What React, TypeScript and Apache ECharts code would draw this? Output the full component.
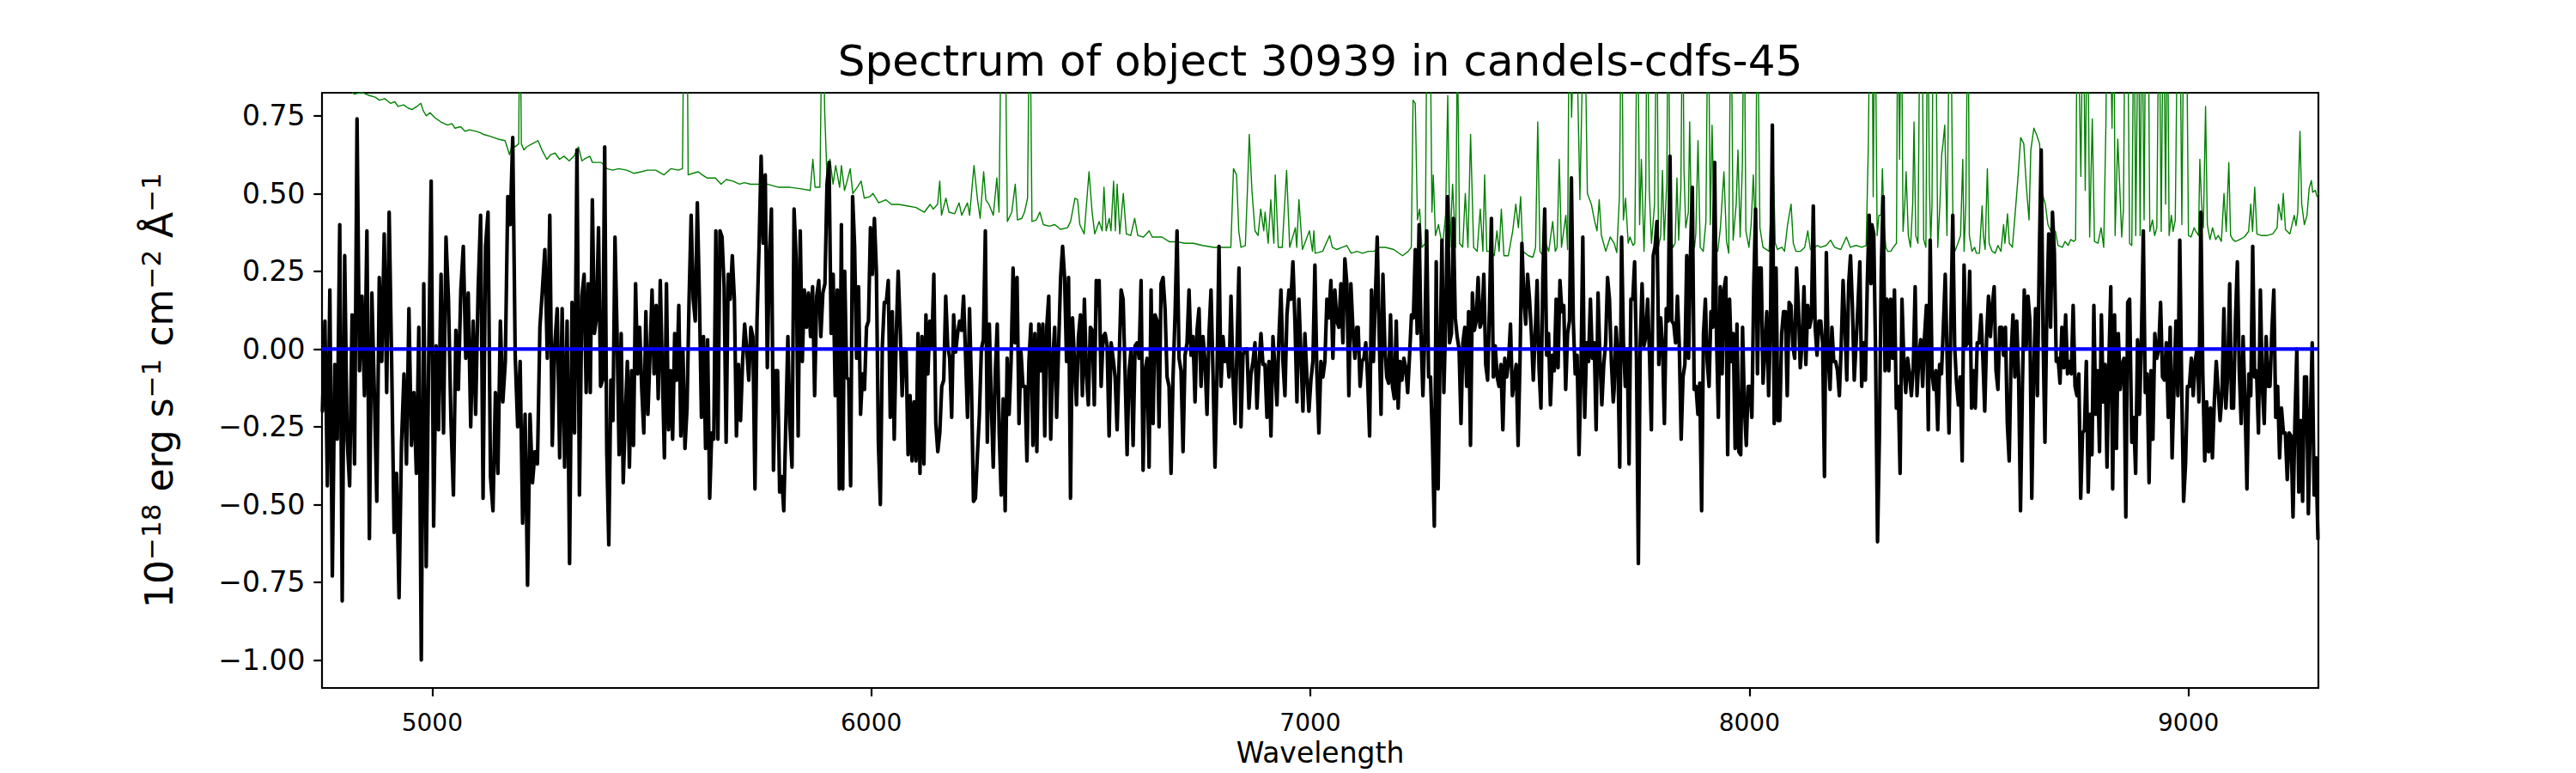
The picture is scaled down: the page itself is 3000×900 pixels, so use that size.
import React, { useEffect, useRef } from "react";
import * as echarts from "echarts";

const TITLE = "Spectrum of object 30939 in candels-cdfs-45";
const X_LABEL = "Wavelength";
const Y_LABEL = "{n|10}{s|\u221218}{n| erg s}{s|\u22121}{n| cm}{s|\u22122}{n| \u00C5}{s|\u22121}";
const X_MIN = 4749;
const X_MAX = 9296;
const Y_MIN = -1.09;
const Y_MAX = 0.824;
const xTicks = [5000, 6000, 7000, 8000, 9000];
const yTicks = [-1, -0.75, -0.5, -0.25, 0, 0.25, 0.5, 0.75];

// observed flux, read in eight wavelength stretches (start / end wavelength of each stretch)
const segStart = [4750, 5346, 5935, 6519, 7109, 7692, 8279, 8871];
const segEnd = [5341, 5932, 6517, 7106, 7690, 8277, 8866, 9295];

const flux1 = [-0.20,0.09,-0.44,0.19,-0.73,-0.05,-0.29,0.40,-0.81,0.30,-0.29,-0.44,0.11,-0.37,0.74,-0.07,0.17,-0.15,0.38,-0.61,0.18,-0.14,-0.49,0.23,-0.04,0.37,-0.14,0.44,-0.04,-0.59,-0.40,-0.80,-0.30,-0.08,-0.37,0.13,-0.31,-0.14,-0.40,0.07,-1.00,0.21,-0.70,-0.03,0.54,-0.57,0.01,-0.26,0.24,-0.27,0.36,0.16,-0.23,-0.47,0.06,-0.13,0.19,0.33,-0.03,0.18,-0.25,0.09,-0.21,0.19,0.43,-0.48,0.33,0.44,-0.41,-0.52,-0.14,-0.40,0.09,-0.17,-0.04,0.49,0.40,0.68,-0.02,-0.25,-0.04,-0.56,-0.21,-0.76,-0.21,-0.43,-0.33,-0.37,0.07,0.19,0.32,-0.03,0.43,-0.31,0.01,0.13,-0.35,0.13,-0.38,0.09,-0.69,0.15,-0.27,0.64,-0.47,0.17];
const flux2 = [0.24,-0.14,0.21,-0.14,0.48,0.05,0.10,0.39,-0.12,-0.10,0.65,-0.33,-0.63,-0.10,-0.23,0.36,0.05,-0.34,0.05,-0.43,-0.22,-0.04,-0.38,-0.07,-0.31,0.21,-0.08,0.07,-0.13,-0.27,0.12,-0.21,-0.02,0.19,-0.08,0.14,-0.16,0.22,-0.07,-0.35,0.21,-0.26,-0.07,-0.29,0.05,-0.10,0.14,-0.28,0.00,-0.32,-0.19,0.16,0.43,0.16,0.09,0.47,0.17,-0.22,0.04,-0.32,0.03,-0.48,-0.27,-0.29,0.38,-0.29,0.38,0.36,0.20,-0.30,0.24,0.16,0.30,0.16,-0.28,-0.05,-0.23,-0.04,0.08,0.00,-0.10,0.07,0.04,-0.45,0.09,0.33,0.62,0.34,0.56,-0.06,0.29,0.45,-0.39,-0.07,-0.07,-0.46,-0.41,-0.52,-0.24,0.04,-0.25,-0.38,0.45,0.29,-0.28,0.38,-0.04,0.19,0.07,0.18,0.04,0.20,-0.15,0.17,0.22,0.04,0.18,0.21,0.53,0.60,0.05,0.24,-0.15,0.19,-0.45,0.40];
const flux3 = [-0.45,0.25,-0.09,-0.10,-0.44,0.49,0.33,-0.03,0.20,-0.21,-0.08,-0.13,0.07,0.09,0.39,0.24,0.42,0.25,-0.30,-0.50,0.01,0.15,0.15,0.22,-0.22,0.12,-0.29,0.04,0.25,0.07,-0.15,0.00,-0.01,-0.34,-0.15,-0.36,-0.17,-0.36,0.05,-0.40,0.04,-0.37,0.11,-0.08,0.09,0.01,0.24,-0.24,-0.33,-0.27,-0.12,-0.10,0.17,0.01,-0.03,-0.22,0.11,-0.01,0.05,0.09,0.06,0.17,-0.02,-0.22,0.13,-0.12,-0.49,-0.48,-0.34,-0.21,0.00,0.03,0.38,-0.30,0.08,-0.17,-0.38,-0.08,0.08,-0.27,-0.47,-0.16,-0.52,-0.03,-0.21,-0.04,0.26,0.02,0.23,-0.24,-0.01,-0.12,-0.12,-0.36,-0.04,0.08,-0.31,0.05,-0.33,0.08,-0.07,0.08,-0.28,0.07,0.17,-0.29,-0.04,0.07,-0.22,0.01,0.23,0.33,0.23,-0.04,0.23,-0.48,0.10,-0.04,-0.18,0.04,0.11,-0.15,0.16,-0.08,-0.18,0.07,0.06,-0.18,0.22,0.14];
const flux4 = [0.22,-0.12,0.04,0.05,0.01,-0.28,0.02,-0.03,-0.09,-0.26,-0.04,0.19,0.16,-0.08,-0.34,-0.07,0.00,-0.31,0.01,0.02,-0.03,0.22,-0.39,-0.07,-0.03,-0.38,0.19,-0.24,0.11,0.09,-0.25,0.21,0.23,0.13,-0.09,-0.12,-0.40,-0.09,0.11,0.38,-0.03,-0.07,-0.33,-0.02,0.02,0.19,-0.02,0.04,-0.17,0.06,0.13,-0.12,0.04,-0.04,-0.21,0.05,0.19,-0.08,-0.38,-0.08,0.33,-0.12,0.04,-0.04,0.00,-0.09,0.17,-0.09,-0.24,0.00,0.26,-0.25,-0.02,0.00,0.00,-0.19,-0.08,-0.04,0.02,-0.19,-0.05,0.05,-0.05,-0.05,-0.22,-0.04,-0.28,0.04,-0.06,-0.18,0.04,0.19,-0.04,-0.15,0.11,0.19,0.16,0.28,0.09,-0.17,0.16,-0.02,-0.20,0.05,-0.09,-0.20,-0.10,-0.04,0.27,-0.08,-0.27,-0.04,-0.09,-0.04,0.16,0.10,0.22,-0.03,0.19,0.09,0.07,0.21,0.02,0.29,0.21,-0.15,0.21,0.07,-0.03,0.07];
const flux5 = [0.07,-0.12,-0.04,-0.03,0.02,-0.10,-0.28,0.19,-0.04,0.16,0.36,0.06,-0.21,0.24,0.01,-0.09,-0.11,0.11,-0.12,-0.16,0.09,-0.19,-0.04,-0.10,-0.03,-0.06,-0.14,-0.02,0.11,0.10,0.32,0.05,0.40,0.05,-0.15,0.05,0.38,-0.09,-0.09,-0.29,-0.57,0.28,-0.45,-0.03,0.35,-0.14,0.10,0.49,0.02,0.05,0.42,0.10,0.04,0.00,-0.24,0.02,0.07,-0.12,0.12,-0.31,0.18,0.06,0.09,0.23,0.07,0.09,0.24,-0.05,-0.10,0.14,0.42,-0.09,0.01,-0.09,-0.12,-0.05,-0.26,-0.03,-0.09,-0.04,0.08,-0.15,-0.10,-0.05,-0.31,-0.04,0.34,0.17,0.08,0.24,0.16,0.05,-0.10,0.05,0.22,-0.06,-0.19,0.23,0.45,-0.02,0.05,-0.18,-0.02,-0.07,0.16,-0.06,0.22,0.12,0.14,-0.13,0.05,0.09,0.55,0.09,-0.08,-0.02,-0.34,-0.09,0.36,-0.22,0.02,-0.04,0.16,-0.03,0.02,-0.26,0.18,-0.03,-0.18,-0.05,0.02,0.23,0.16,-0.04,-0.17];
const flux6 = [-0.13,0.07,-0.03,-0.38,0.36,0.02,-0.12,0.00,-0.37,0.16,0.16,0.28,-0.03,-0.69,0.01,0.21,0.01,0.04,0.16,-0.02,-0.26,0.30,0.33,0.41,-0.05,0.10,0.01,-0.24,0.13,0.09,0.62,0.09,0.08,0.02,0.17,0.01,-0.29,-0.09,-0.05,0.30,-0.03,0.30,0.52,-0.13,-0.12,-0.21,-0.11,-0.52,0.05,0.16,-0.04,-0.12,0.12,0.07,0.60,0.04,-0.22,0.20,-0.08,0.19,0.23,-0.34,0.16,-0.04,0.05,-0.32,0.08,-0.33,-0.34,0.07,-0.19,-0.31,-0.12,-0.12,-0.22,0.20,0.45,-0.08,0.26,0.26,-0.11,0.00,0.12,-0.15,0.08,0.72,-0.24,0.26,-0.23,-0.23,0.05,0.12,0.12,-0.15,0.15,0.14,0.01,-0.03,0.26,0.14,-0.06,0.02,0.20,-0.05,0.14,0.07,0.10,0.46,0.07,-0.02,0.09,0.09,0.02,-0.41,0.31,-0.02,-0.13,0.07,-0.04,-0.04,-0.07,-0.15,0.01,0.22,0.08,-0.10,0.21,0.30,0.14,-0.10,0.02,0.14,0.28,-0.12,0.02,-0.10,0.21,0.43,0.21];
const flux7 = [0.40,0.37,-0.03,-0.62,-0.28,0.26,0.49,-0.07,0.16,-0.07,0.16,-0.03,0.19,-0.19,-0.12,-0.40,0.16,-0.04,-0.14,-0.03,-0.08,-0.15,-0.06,0.20,-0.15,-0.02,0.03,-0.12,0.04,0.14,-0.26,0.35,-0.08,-0.13,-0.07,-0.26,-0.05,-0.08,0.07,0.24,-0.03,-0.27,0.09,0.43,0.01,-0.11,-0.18,-0.09,-0.36,0.27,0.01,0.02,0.25,-0.19,-0.07,-0.19,0.02,0.02,0.11,-0.03,-0.20,0.04,0.17,0.04,0.14,0.20,-0.07,-0.13,0.07,0.07,-0.02,0.07,-0.24,-0.36,-0.02,0.11,-0.09,0.09,-0.09,-0.52,-0.13,0.19,0.00,0.17,0.09,-0.48,-0.08,0.13,-0.15,0.30,0.64,0.04,-0.30,0.12,0.37,0.07,0.44,0.31,-0.04,-0.03,-0.11,0.07,-0.06,0.11,-0.08,-0.04,-0.08,0.14,-0.12,-0.15,-0.08,-0.48,-0.27,-0.26,-0.04,-0.46,-0.21,-0.34,0.14,-0.21,-0.07,-0.33,0.11,-0.17,-0.05,-0.38,-0.04,0.20,-0.45,0.11,-0.32,0.05,-0.13,-0.05,-0.03,-0.54,0.15,0.16];
const flux8 = [-0.30,-0.22,-0.40,0.03,-0.21,0.03,0.38,-0.14,-0.08,-0.43,-0.07,-0.29,0.05,-0.03,0.00,0.15,-0.09,-0.10,0.02,-0.22,0.07,-0.35,-0.12,0.09,-0.15,0.35,-0.12,-0.49,-0.37,-0.12,-0.12,-0.03,-0.15,-0.04,0.00,-0.17,0.44,-0.08,-0.36,-0.17,-0.33,-0.19,-0.35,-0.17,-0.04,-0.13,-0.23,-0.15,0.13,-0.19,-0.08,0.21,-0.19,-0.19,0.09,0.28,-0.07,-0.24,0.04,-0.17,-0.45,-0.08,-0.15,0.33,-0.09,-0.07,-0.27,0.19,-0.12,-0.24,0.04,-0.12,-0.12,0.06,0.19,-0.22,-0.12,-0.35,-0.19,-0.27,-0.27,-0.42,-0.27,-0.28,-0.54,-0.23,0.00,-0.46,-0.23,-0.49,-0.09,-0.09,-0.53,-0.23,0.02,-0.47,-0.35,-0.61];

// error spectrum (green): wavelength and value; values above the plot top are sky lines that get clipped
const errWave = [4749,4790,4810,4822,4840,4857,4870,4880,4892,4905,4915,4922,4935,4945,4954,4965,4974,4980,4987,4995,5005,5020,5035,5045,5052,5065,5075,5085,5100,5110,5117,5130,5140,5150,5166,5176,5183,5189,5197,5200,5203,5209,5215,5228,5241,5250,5261,5270,5280,5290,5300,5312,5323,5333,5341,
5346,5359,5365,5372,5385,5398,5411,5425,5443,5460,5476,5490,5509,5528,5544,5561,5570,5574,5580,5583,5594,5606,5615,5626,5645,5658,5670,5685,5700,5711,5725,5737,5763,5789,5815,5841,5861,5867,5872,5883,5889,5894,5900,5906,5913,5919,5928,
5932,5939,5945,5952,5958,5968,5977,5984,5997,6004,6017,6033,6046,6063,6082,6102,6121,6134,6141,6151,6156,6160,6170,6177,6190,6200,6206,6219,6224,6234,6242,6248,6256,6261,6268,6278,6286,6291,6297,6304,6310,6320,6328,6333,6343,6349,6356,6361,6366,6376,6384,6392,6405,6418,6431,6447,6454,6464,6470,6475,6485,6496,6503,6509,6519,
6526,6530,6535,6542,6546,6552,6556,6560,6566,6574,6581,6591,6600,6607,6620,6633,6640,6662,6679,6695,6715,6734,6754,6780,6806,6819,6825,6832,6837,6842,6852,6857,6861,6867,6874,6881,6887,6894,6897,6904,6910,6917,6920,6927,6936,6946,6953,6966,6969,6974,6982,6998,7005,7008,7011,7028,7044,7050,7060,7073,7083,7093,7106,
7119,7132,7145,7158,7171,7190,7210,7223,7230,7234,7239,7244,7249,7254,7262,7266,7272,7277,7280,7285,7292,7301,7308,7313,7318,7324,7331,7335,7340,7347,7353,7359,7365,7372,7380,7387,7393,7397,7402,7412,7419,7425,7430,7435,7441,7451,7461,7468,7474,7479,7484,7497,7507,7513,7518,7523,7530,7536,7543,7552,7558,7562,7567,7572,7582,7586,7590,7595,7604,7614,7624,7631,7640,7647,7653,7658,7663,7673,7683,7692,
7698,7704,7709,7713,7718,7724,7728,7735,7739,7745,7750,7754,7760,7764,7767,7772,7777,7784,7789,7793,7798,7802,7806,7812,7815,7820,7826,7831,7835,7839,7844,7848,7851,7855,7861,7864,7868,7875,7878,7883,7888,7895,7901,7906,7911,7915,7921,7928,7934,7938,7942,7948,7953,7958,7963,7970,7974,7979,7984,7988,7992,7999,8004,8009,8014,8018,8024,8031,8045,8054,8059,8064,8074,8080,8087,8095,8100,8106,8116,8126,8133,8139,8149,8155,8162,8175,8185,8194,8208,8221,8230,8243,8256,8266,8271,8275,
8279,8282,8286,8291,8295,8300,8303,8307,8311,8315,8322,8328,8335,8338,8342,8346,8350,8354,8357,8362,8367,8372,8375,8379,8384,8389,8393,8397,8402,8406,8410,8413,8416,8419,8424,8429,8434,8438,8441,8445,8450,8455,8458,8464,8468,8475,8481,8486,8489,8493,8498,8501,8507,8513,8517,8524,8530,8533,8537,8542,8546,8553,8560,8566,8573,8579,8582,8588,8592,8599,8605,8612,8618,8625,8631,8637,8641,8648,8654,8661,8667,8674,8680,8687,8697,8703,8713,8719,8726,8732,8739,8743,8747,8755,8760,8765,8770,8775,8781,8786,8794,8801,8807,8812,8815,8820,8826,8830,8833,8839,8843,8848,8852,8856,8861,8866,
8871,8876,8880,8886,8890,8894,8899,8903,8908,8912,8918,8923,8928,8933,8938,8943,8948,8952,8956,8961,8965,8970,8976,8980,8985,8990,8995,9000,9006,9013,9017,9023,9026,9030,9034,9039,9043,9049,9055,9062,9068,9075,9081,9086,9092,9096,9101,9107,9117,9127,9137,9142,9146,9151,9156,9166,9179,9192,9202,9205,9212,9216,9221,9231,9241,9245,9249,9254,9258,9264,9270,9275,9280,9283,9289,9293,9296];
const errFlux = [0.95,0.88,0.84,0.82,0.825,0.815,0.81,0.80,0.805,0.79,0.795,0.78,0.785,0.775,0.77,0.78,0.79,0.765,0.75,0.76,0.745,0.73,0.72,0.725,0.71,0.715,0.70,0.705,0.70,0.695,0.69,0.685,0.68,0.675,0.67,0.625,0.66,0.65,0.66,1.2,0.66,0.64,0.65,0.66,0.67,0.64,0.61,0.625,0.63,0.61,0.62,0.605,0.62,0.65,0.605,
0.61,0.62,0.60,0.60,0.60,0.58,0.575,0.58,0.575,0.565,0.57,0.575,0.575,0.56,0.58,0.575,0.58,1.2,1.2,0.56,0.565,0.57,0.56,0.55,0.55,0.53,0.545,0.54,0.53,0.535,0.53,0.53,0.53,0.52,0.52,0.515,0.51,0.61,0.52,0.52,1.2,0.76,0.52,0.61,0.53,0.59,0.52,
0.59,0.51,0.54,0.58,0.50,0.52,0.54,0.485,0.49,0.50,0.47,0.48,0.465,0.465,0.46,0.455,0.44,0.465,0.45,0.465,0.54,0.43,0.485,0.44,0.435,0.47,0.43,0.47,0.43,0.59,0.48,0.42,0.57,0.48,0.465,0.43,0.55,0.44,1.2,1.2,0.41,0.44,0.53,0.415,0.42,0.44,0.485,1.2,0.41,0.415,0.44,0.40,0.395,0.40,0.385,0.39,0.41,0.485,0.48,0.40,0.37,0.57,0.44,0.37,0.41,
0.38,0.52,0.38,0.42,0.38,0.54,0.38,0.53,0.37,0.50,0.37,0.365,0.42,0.365,0.36,0.38,0.36,0.36,0.345,0.345,0.34,0.34,0.333,0.327,0.327,0.327,0.58,0.56,0.38,0.327,0.333,0.52,0.69,0.51,0.38,0.365,0.45,0.38,0.44,0.34,0.48,0.34,0.56,0.327,0.327,0.574,0.327,0.39,0.327,0.48,0.32,0.38,0.314,0.38,0.308,0.314,0.365,0.327,0.32,0.327,0.333,0.308,0.314,
0.308,0.314,0.314,0.327,0.327,0.32,0.30,0.314,0.327,0.80,0.79,0.415,0.45,0.327,0.34,1.2,1.2,0.44,0.56,0.365,0.40,0.327,0.43,0.815,0.327,0.53,0.327,1.0,0.34,0.327,0.50,0.327,0.69,0.327,0.314,0.45,0.314,0.56,0.314,0.314,0.30,0.38,0.314,0.45,0.30,0.30,0.38,0.466,0.39,0.49,0.314,0.30,0.295,0.327,0.73,0.314,0.30,0.34,0.314,0.41,0.314,0.327,0.61,0.327,0.43,0.32,1.2,0.745,1.2,0.48,1.2,0.50,0.466,0.415,0.38,0.48,0.365,0.314,0.36,0.34,
0.31,0.49,1.2,0.415,0.485,0.34,0.36,0.333,0.34,1.2,0.40,0.61,0.314,0.52,1.2,0.51,0.34,0.466,1.2,0.327,0.365,0.574,0.35,0.54,1.2,0.365,0.327,0.34,0.55,0.35,0.52,1.2,0.58,0.39,0.44,0.73,0.40,0.327,0.37,0.67,0.327,0.314,0.41,1.2,0.40,0.72,0.34,0.314,0.39,0.48,0.57,0.345,0.308,1.2,0.35,0.466,0.64,0.36,0.59,1.2,0.38,0.327,0.40,0.56,0.365,1.2,0.39,0.327,0.314,0.62,0.34,0.32,0.327,0.314,0.40,0.466,0.34,0.314,0.314,0.327,0.38,0.32,0.327,0.333,0.327,0.333,0.35,0.327,0.32,0.36,0.327,0.333,0.327,0.333,0.66,1.2,
1.2,0.49,1.2,0.365,0.43,0.43,0.58,0.39,0.327,0.314,0.314,0.327,0.34,1.2,0.61,1.2,0.378,0.466,0.57,0.365,0.327,0.466,0.73,0.365,0.34,1.2,1.2,0.352,0.327,1.2,0.53,0.34,0.466,1.2,1.2,0.327,0.466,0.625,0.66,0.72,0.365,1.0,1.2,0.352,0.314,0.34,0.365,0.61,0.314,0.466,1.2,0.365,0.314,0.327,0.308,0.308,0.46,0.365,0.32,0.58,0.34,0.314,0.308,0.333,0.314,0.40,0.34,0.435,0.34,0.327,0.43,0.555,0.68,0.66,0.52,0.415,0.64,0.71,0.69,0.66,0.50,0.466,0.40,0.378,0.378,0.333,0.327,0.346,0.333,0.352,0.346,0.352,1.2,0.555,1.2,0.51,1.2,0.36,0.74,0.346,0.34,0.39,0.327,0.72,1.2,1.2,0.71,1.2,0.365,0.675,0.54,0.36,0.45,1.2,1.2,0.34,
0.333,1.2,0.365,1.2,0.365,1.2,0.415,1.2,1.2,0.378,0.415,0.365,0.39,1.2,0.378,1.2,0.466,1.2,0.365,0.43,0.378,0.415,1.2,1.2,0.40,1.2,1.2,0.365,0.36,0.39,0.378,0.365,0.61,0.466,0.39,0.78,0.40,0.352,0.39,0.352,0.365,0.346,0.50,0.378,0.60,0.365,0.352,0.346,0.352,0.36,0.378,0.466,0.378,0.52,0.37,0.365,0.365,0.37,0.39,0.466,0.415,0.50,0.384,0.37,0.43,0.397,0.44,0.70,0.466,0.40,0.43,0.517,0.542,0.504,0.51,0.49,0.50];

// model continuum (blue)
const modelWave = [X_MIN, X_MAX];
const modelFlux = [0, 0];

const FONT = "DejaVu Sans";

function fmtY(v: number): string {
  const s = Math.abs(v).toFixed(2);
  return v < 0 ? "\u2212" + s : s;
}

export default function App() {
  const ref = useRef<HTMLDivElement>(null);
  useEffect(() => {
    document.body.style.margin = "0";
    if (!ref.current) return;
    const chart = echarts.init(ref.current, undefined, { renderer: "svg" });

    const fluxSegs = [flux1, flux2, flux3, flux4, flux5, flux6, flux7, flux8];
    const fluxData: number[][] = [];
    fluxSegs.forEach((seg, k) => {
      const n = seg.length;
      seg.forEach((v, i) => {
        fluxData.push([segStart[k] + ((segEnd[k] - segStart[k]) * i) / (n - 1), v]);
      });
    });
    const errData = errWave.map((w, i) => [w, errFlux[i]]);
    const modelData = modelWave.map((w, i) => [w, modelFlux[i]]);

    const spine = { show: true, onZero: false, lineStyle: { color: "#000", width: 2.2 } };

    chart.setOption({
      animation: false,
      backgroundColor: "#fff",
      title: {
        text: TITLE,
        left: 1537.5,
        top: 46,
        textAlign: "center",
        padding: 0,
        textStyle: { fontFamily: FONT, fontSize: 50, fontWeight: "normal", color: "#000", lineHeight: 50 },
      },
      grid: { left: 375, right: 300, top: 108, bottom: 99, containLabel: false },
      xAxis: [
        {
          type: "value",
          min: X_MIN,
          max: X_MAX,
          position: "bottom",
          axisLine: spine,
          axisTick: { show: true, length: 9.7, inside: false, customValues: xTicks, lineStyle: { color: "#000", width: 2.2 } },
          axisLabel: {
            customValues: xTicks,
            fontFamily: FONT,
            fontSize: 28,
            color: "#000",
            margin: 26,
            formatter: (v: number) => String(v),
          },
          splitLine: { show: false },
          name: X_LABEL,
          nameLocation: "middle",
          nameGap: 57,
          nameTextStyle: { fontFamily: FONT, fontSize: 33, color: "#000" },
        },
        {
          type: "value",
          min: X_MIN,
          max: X_MAX,
          position: "top",
          axisLine: spine,
          axisTick: { show: false },
          axisLabel: { show: false },
          splitLine: { show: false },
        },
      ],
      yAxis: [
        {
          type: "value",
          min: Y_MIN,
          max: Y_MAX,
          position: "left",
          axisLine: spine,
          axisTick: { show: true, length: 9.7, inside: false, customValues: yTicks, lineStyle: { color: "#000", width: 2.2 } },
          axisLabel: {
            customValues: yTicks,
            fontFamily: FONT,
            fontSize: 33,
            color: "#000",
            margin: 19.5,
            formatter: (v: number) => fmtY(v),
          },
          splitLine: { show: false },
          name: Y_LABEL,
          nameLocation: "middle",
          nameRotate: 90,
          nameGap: 165,
          nameTextStyle: {
            rich: {
              n: { fontFamily: FONT, fontSize: 44, color: "#000", lineHeight: 50 },
              s: { fontFamily: FONT, fontSize: 31, color: "#000", lineHeight: 26, verticalAlign: "top" },
            },
          },
        },
        {
          type: "value",
          min: Y_MIN,
          max: Y_MAX,
          position: "right",
          axisLine: spine,
          axisTick: { show: false },
          axisLabel: { show: false },
          splitLine: { show: false },
        },
      ],
      series: [
        {
          type: "line",
          name: "error",
          data: errData,
          showSymbol: false,
          symbol: "none",
          clip: true,
          lineStyle: { color: "#008000", width: 1.4, join: "round" },
          silent: true,
        },
        {
          type: "line",
          name: "flux",
          data: fluxData,
          showSymbol: false,
          symbol: "none",
          clip: true,
          lineStyle: { color: "#000000", width: 4.2, join: "round", cap: "round" },
          silent: true,
        },
        {
          type: "line",
          name: "model",
          data: modelData,
          showSymbol: false,
          symbol: "none",
          clip: true,
          lineStyle: { color: "#0000ff", width: 4.2 },
          silent: true,
        },
      ],
    });
    return () => chart.dispose();
  }, []);
  return <div ref={ref} style={{ width: 3000, height: 900 }} />;
}
